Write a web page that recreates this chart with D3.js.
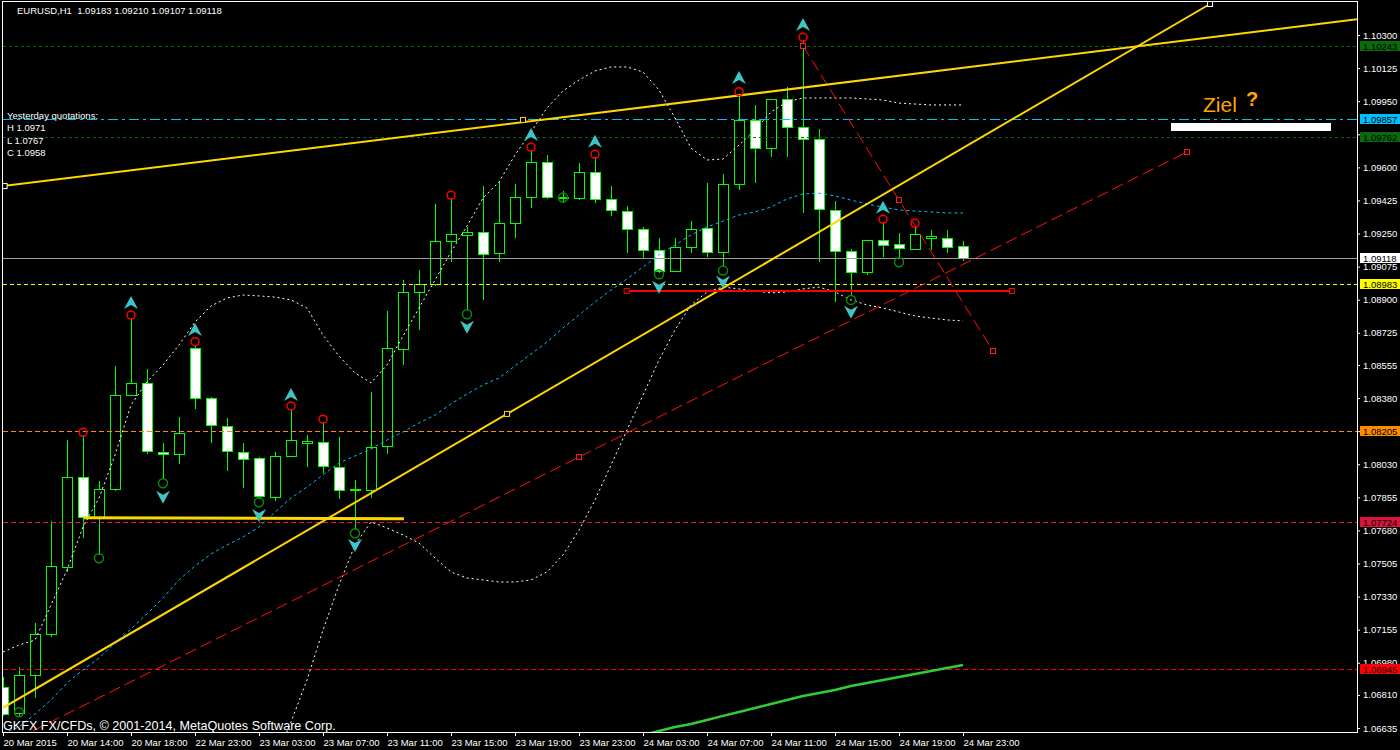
<!DOCTYPE html>
<html><head><meta charset="utf-8">
<script src="https://cdn.jsdelivr.net/npm/d3@7"></script>
<style>html,body{margin:0;padding:0;background:#000;}svg{display:block;}</style>
</head><body>
<svg id="chart" width="1400" height="750"></svg>
<script>
// ---------------- DATA ----------------
const headerText = "EURUSD,H1  1.09183 1.09210 1.09107 1.09118";
const copyrightText = "GKFX FX/CFDs, \u00a9 2001-2014, MetaQuotes Software Corp.";
const yesterdayLines = ["Yesterday quotations:", "H 1.0971", "L 1.0767", "C 1.0958"];

const timeLabels = ["20 Mar 2015","20 Mar 14:00","20 Mar 18:00","22 Mar 23:00","23 Mar 03:00","23 Mar 07:00","23 Mar 11:00","23 Mar 15:00","23 Mar 19:00","23 Mar 23:00","24 Mar 03:00","24 Mar 07:00","24 Mar 11:00","24 Mar 15:00","24 Mar 19:00","24 Mar 23:00"];
const timeLabelBars = [0,4,8,12,16,20,24,28,32,36,40,44,48,52,56,60];

const priceTicks = [1.10300,1.10125,1.09950,1.09775,1.09600,1.09425,1.09250,1.09075,1.08900,1.08725,1.08555,1.08380,1.08205,1.08030,1.07855,1.07680,1.07505,1.07330,1.07155,1.06980,1.06810,1.06635];

const opens  = [1.06854,1.06713,1.06912,1.07131,1.07485,1.07961,1.07744,1.07897,1.08395,1.08458,1.08093,1.08083,1.08643,1.08379,1.08234,1.08096,1.08061,1.07858,1.08074,1.08144,1.08146,1.08017,1.07890,1.07894,1.08123,1.08643,1.08942,1.08982,1.09207,1.09246,1.09257,1.09146,1.09304,1.09442,1.09627,1.09445,1.09436,1.09574,1.09431,1.09368,1.09272,1.09161,1.09048,1.09177,1.09278,1.09149,1.09510,1.09851,1.09701,1.09960,1.09812,1.09748,1.09373,1.09156,1.09045,1.09216,1.09195,1.09170,1.09223,1.09225,1.09183];
const highs  = [1.06905,1.06959,1.07189,1.07730,1.08158,1.08185,1.07941,1.08550,1.08803,1.08532,1.08141,1.08281,1.08661,1.08387,1.08273,1.08141,1.08068,1.08096,1.08322,1.08185,1.08253,1.08172,1.07947,1.08414,1.08840,1.09004,1.09057,1.09406,1.09438,1.09283,1.09501,1.09529,1.09510,1.09692,1.09665,1.09477,1.09621,1.09655,1.09501,1.09396,1.09283,1.09225,1.09225,1.09316,1.09516,1.09565,1.09988,1.09930,1.09962,1.10023,1.10274,1.09803,1.09422,1.09168,1.09216,1.09311,1.09254,1.09283,1.09269,1.09269,1.09210];
const lows   = [1.06699,1.06699,1.06792,1.07118,1.07462,1.07638,1.07550,1.07890,1.08391,1.08083,1.07952,1.08030,1.08321,1.08141,1.07996,1.07903,1.07846,1.07837,1.08070,1.08017,1.07982,1.07845,1.07682,1.07850,1.08083,1.08555,1.08740,1.08975,1.09101,1.08846,1.08899,1.09101,1.09228,1.09387,1.09431,1.09413,1.09430,1.09410,1.09344,1.09146,1.09114,1.09040,1.09045,1.09149,1.09128,1.09073,1.09480,1.09516,1.09656,1.09656,1.09357,1.09098,1.08890,1.08920,1.09031,1.09128,1.09119,1.09165,1.09163,1.09149,1.09107];
const closes = [1.06713,1.06914,1.07131,1.07492,1.07961,1.07749,1.07897,1.08395,1.08458,1.08096,1.08083,1.08194,1.08379,1.08234,1.08102,1.08061,1.07858,1.08074,1.08158,1.08154,1.08017,1.07897,1.07897,1.08123,1.08643,1.08942,1.08982,1.09209,1.09246,1.09260,1.09140,1.09304,1.09442,1.09627,1.09442,1.09440,1.09574,1.09431,1.09373,1.09272,1.09159,1.09048,1.09177,1.09272,1.09149,1.09510,1.09851,1.09701,1.09960,1.09812,1.09748,1.09378,1.09156,1.09045,1.09216,1.09188,1.09172,1.09248,1.09235,1.09177,1.09118];

// Bollinger-type envelope (upper / middle / lower)
const upperBand = [1.07037,1.07074,1.07100,1.07286,1.07471,1.07698,1.07851,1.08079,1.08343,1.08465,1.08555,1.08661,1.08782,1.08867,1.08909,1.08925,1.08920,1.08914,1.08899,1.08856,1.08713,1.08602,1.08513,1.08460,1.08555,1.08708,1.08856,1.09004,1.09152,1.09290,1.09438,1.09523,1.09665,1.09787,1.09914,1.10004,1.10062,1.10110,1.10131,1.10131,1.10104,1.10009,1.09861,1.09702,1.09639,1.09644,1.09718,1.09798,1.09893,1.09946,1.09967,1.09967,1.09967,1.09967,1.09962,1.09956,1.09940,1.09935,1.09930,1.09930,1.09930];
const middleBand = [1.06609,1.06640,1.06709,1.06783,1.06873,1.06942,1.07005,1.07085,1.07159,1.07238,1.07323,1.07418,1.07492,1.07555,1.07603,1.07645,1.07698,1.07777,1.07851,1.07910,1.07973,1.08037,1.08074,1.08111,1.08158,1.08201,1.08248,1.08290,1.08349,1.08401,1.08449,1.08486,1.08550,1.08613,1.08676,1.08751,1.08819,1.08888,1.08951,1.09010,1.09073,1.09137,1.09189,1.09242,1.09285,1.09316,1.09348,1.09364,1.09390,1.09433,1.09459,1.09464,1.09449,1.09427,1.09406,1.09390,1.09375,1.09369,1.09364,1.09359,1.09359];
const lowerBandStart = 17;
const lowerBand = [1.06466,1.06667,1.06889,1.07153,1.07391,1.07603,1.07725,1.07693,1.07656,1.07613,1.07534,1.07460,1.07428,1.07418,1.07407,1.07407,1.07418,1.07460,1.07550,1.07682,1.07841,1.08026,1.08211,1.08396,1.08581,1.08740,1.08872,1.08941,1.08967,1.08957,1.08946,1.08936,1.08941,1.08957,1.08967,1.08941,1.08899,1.08872,1.08856,1.08835,1.08814,1.08803,1.08793,1.08788];
// long moving average (green)
const maStart = 40;
const maLine = [1.06598,1.06619,1.06640,1.06656,1.06677,1.06699,1.06720,1.06741,1.06762,1.06783,1.06804,1.06820,1.06836,1.06857,1.06873,1.06889,1.06905,1.06921,1.06936,1.06952,1.06968];

// fractal markers
const upArrowBars   = [8,12,18,33,37,46,50,55];
const upArrowPrices = [1.08883,1.08740,1.08396,1.09771,1.09736,1.10073,1.10353,1.09387];
const downArrowBars   = [10,16,22,29,41,45,53];
const downArrowPrices = [1.07858,1.07762,1.07603,1.08757,1.08969,1.08995,1.08837];
const redCircleBars   = [5,8,12,18,20,28,33,37,46,50,55,57];
const redCirclePrices = [1.08199,1.08819,1.08678,1.08338,1.08268,1.09452,1.09706,1.09669,1.10000,1.10288,1.09325,1.09304];
const greenCircleBars   = [1,6,10,16,22,29,35,41,45,53,56];
const greenCirclePrices = [1.06718,1.07533,1.07929,1.07829,1.07665,1.08823,1.09440,1.09035,1.09054,1.08899,1.09098];

// horizontal levels
const levelPrices = [1.10243,1.09857,1.09762,1.09118,1.08983,1.08205,1.07724,1.06945];

// drawn objects (bar index, price)
const upperTrendBars = [0, 84.75];
const upperTrendPrices = [1.09501, 1.10384];
const lowerTrendBars = [0, 75.44];
const lowerTrendPrices = [1.06742, 1.10464];
const supportBars = [5.06, 25.06];
const supportPrices = [1.07747, 1.07742];
const redLevelBars = [38.98, 63.06];
const redLevelPrices = [1.08946, 1.08946];
const redChannelBars = [0, 74];
const redChannelPrices = [1.06540, 1.09681];
const redChannelMarkBars = [36, 74];
const redChannelMarkPrices = [1.08068, 1.09681];
const redDropBars = [50, 61.875];
const redDropPrices = [1.10242, 1.08629];
const redDropMarkBars = [50, 56, 61.875];
const redDropMarkPrices = [1.10242, 1.09427, 1.08629];
const zielText = "Ziel";
const zielMark = "?";

// ---------------- STYLES ----------------
const levelStroke = ["#0d640d","#00bfff","#0d640d","#9a9a9a","#ffff00","#ff8c00","#dc143c","#ff0000"];
const levelBoxFill = ["#0b6a0b","#00bfff","#0b6a0b","#ffffff","#ffff00","#ff8c00","#dc143c","#ff0000"];
const levelDash = ["3,3","10,4,3,4","3,3",null,"4,3","5,3","5,3","5,3"];
const FONT = "'Liberation Sans', Arial, sans-serif";
const PL = 3, PR = 1357, PT = 2, PB = 732;

const svg = d3.select("#chart");
svg.append("rect").attr("width",1400).attr("height",750).attr("fill","#000");

const x = d3.scaleLinear().domain([0, 84.75]).range([3, 1359]);
const y = d3.scaleLinear().domain([1.06635, 1.10300]).range([728, 35]);

svg.append("defs").append("clipPath").attr("id","plot")
  .append("rect").attr("x",PL).attr("y",PT).attr("width",PR-PL).attr("height",PB-PT);

const plot = svg.append("g").attr("clip-path","url(#plot)");

// ---- candles ----
const bars = d3.range(opens.length);
const cg = plot.append("g").attr("shape-rendering","crispEdges");
cg.selectAll("line.wick").data(bars).join("line")
  .attr("x1", i => Math.round(x(i))+0.5).attr("x2", i => Math.round(x(i))+0.5)
  .attr("y1", i => Math.round(y(highs[i]))).attr("y2", i => Math.round(y(lows[i])))
  .attr("stroke","#00ff00").attr("stroke-width",1);
cg.selectAll("rect.body").data(bars).join("rect")
  .attr("x", i => Math.round(x(i))-4.5)
  .attr("width", 10)
  .attr("y", i => Math.round(y(Math.max(opens[i],closes[i])))+0.5)
  .attr("height", i => Math.max(1, Math.round(Math.abs(y(opens[i])-y(closes[i])))))
  .attr("fill", i => closes[i] >= opens[i] ? "#000" : "#fff")
  .attr("stroke","#00ff00").attr("stroke-width",1);

// ---- horizontal levels ----
plot.append("g").attr("shape-rendering","crispEdges")
  .selectAll("line").data(levelPrices).join("line")
  .attr("x1",PL).attr("x2",PR)
  .attr("y1", d => Math.round(y(d))+0.5).attr("y2", d => Math.round(y(d))+0.5)
  .attr("stroke",(d,i)=>levelStroke[i])
  .attr("stroke-dasharray",(d,i)=>levelDash[i])
  .attr("stroke-width",1);

// ---- bands ----
const line = d3.line().x(d => x(d[0])).y(d => y(d[1]));
plot.append("path").datum(upperBand.map((v,i)=>[i,v]))
  .attr("d",line).attr("fill","none").attr("stroke","#fff").attr("stroke-dasharray","2,3");
plot.append("path").datum(lowerBand.map((v,i)=>[i+lowerBandStart,v]))
  .attr("d",line).attr("fill","none").attr("stroke","#fff").attr("stroke-dasharray","2,3");
plot.append("path").datum(middleBand.map((v,i)=>[i,v]))
  .attr("d",line).attr("fill","none").attr("stroke","#00bfff").attr("stroke-dasharray","3,3");
plot.append("path").datum(maLine.map((v,i)=>[i+maStart,v]))
  .attr("d",line).attr("fill","none").attr("stroke","#32cd32").attr("stroke-width",2.5);

// ---- trend objects ----
function seg(bx, py, color, w, dash){
  plot.append("path").datum(bx.map((b,i)=>[b,py[i]]))
    .attr("d",line).attr("fill","none").attr("stroke",color).attr("stroke-width",w)
    .attr("stroke-dasharray",dash);
}
seg(redChannelBars, redChannelPrices, "#ff1010", 1, "12,5");
seg(redDropBars, redDropPrices, "#ff1010", 1, "12,5");
seg(upperTrendBars, upperTrendPrices, "#ffd700", 2, null);
seg(lowerTrendBars, lowerTrendPrices, "#ffd700", 2, null);
seg(supportBars, supportPrices, "#ffd700", 3, null);
seg(redLevelBars, redLevelPrices, "#ff0000", 2, null);

function squares(bx, py, color){
  plot.selectAll(null).data(bx).join("rect")
    .attr("x",(b)=>x(b)-2.5).attr("y",(b,i)=>y(py[i])-2.5)
    .attr("width",5).attr("height",5)
    .attr("fill","#000").attr("stroke",color).attr("stroke-width",1);
}
squares(redChannelMarkBars, redChannelMarkPrices, "#ff2020");
squares(redDropMarkBars, redDropMarkPrices, "#ff2020");
squares(redLevelBars, redLevelPrices, "#ff0000");
squares([32.5],[1.09851],"#ffd700");
squares([31.5],[1.08296],"#ffd700");
squares([0.1],[1.09501],"#ffffff");
squares([75.44],[1.10464],"#ffffff");

// ---- fractal markers ----
const arrowUp = "M0,-7 L7,6 L0,2 L-7,6 Z";
const arrowDown = "M0,7 L7,-6 L0,-2 L-7,-6 Z";
plot.selectAll("path.au").data(upArrowBars).join("path")
  .attr("d",arrowUp).attr("transform",(b,i)=>`translate(${x(b)},${y(upArrowPrices[i])})`)
  .attr("fill","#40c4c4");
plot.selectAll("path.ad").data(downArrowBars).join("path")
  .attr("d",arrowDown).attr("transform",(b,i)=>`translate(${x(b)},${y(downArrowPrices[i])})`)
  .attr("fill","#40c4c4");
plot.selectAll("circle.rc").data(redCircleBars).join("circle")
  .attr("cx",b=>x(b)).attr("cy",(b,i)=>y(redCirclePrices[i])).attr("r",4)
  .attr("fill","none").attr("stroke","#ff0000").attr("stroke-width",1.5);
plot.selectAll("circle.gc").data(greenCircleBars).join("circle")
  .attr("cx",b=>x(b)).attr("cy",(b,i)=>y(greenCirclePrices[i])).attr("r",4.5)
  .attr("fill","none").attr("stroke","#0a8a0a").attr("stroke-width",1.5);

// ---- Ziel annotation ----
svg.append("rect").attr("x",1171).attr("y",123).attr("width",160).attr("height",8).attr("fill","#fff");
svg.append("text").attr("x",1203).attr("y",112).attr("fill","#ffa500")
  .attr("font-family",FONT).attr("font-size",21).text(zielText);
svg.append("text").attr("x",1246).attr("y",106).attr("fill","#ffa500")
  .attr("font-family",FONT).attr("font-size",20).attr("font-weight","bold").text(zielMark);

// ---- frame ----
svg.append("rect").attr("x",PL-0.5).attr("y",PT-0.5).attr("width",PR-PL+0.5).attr("height",PB-PT+0.5)
  .attr("fill","none").attr("stroke","#fff").attr("stroke-width",1).attr("shape-rendering","crispEdges");

// ---- right axis ----
const ra = svg.append("g").attr("transform",`translate(${PR},0)`)
  .call(d3.axisRight(y).tickValues(priceTicks).tickFormat(d3.format(".5f")).tickSize(3).tickPadding(3));
ra.select(".domain").remove();
ra.selectAll("line").attr("stroke","#fff");
ra.selectAll("text").attr("fill","#fff").attr("font-family",FONT).attr("font-size",9.5);

// level labels on axis
const lb = svg.append("g");
lb.selectAll("rect").data(levelPrices).join("rect")
  .attr("x",1360).attr("width",40).attr("y",d=>Math.round(y(d))-5).attr("height",10)
  .attr("fill",(d,i)=>levelBoxFill[i]);
lb.selectAll("text").data(levelPrices).join("text")
  .attr("x",1363).attr("y",d=>Math.round(y(d))+3.5)
  .attr("fill","#000").attr("font-family",FONT).attr("font-size",9.5)
  .text(d=>d3.format(".5f")(d));

// ---- bottom axis ----
const ba = svg.append("g").attr("transform",`translate(0,${PB})`)
  .call(d3.axisBottom(x).tickValues(timeLabelBars).tickFormat((d,i)=>timeLabels[i]).tickSize(4).tickPadding(3));
ba.select(".domain").remove();
ba.selectAll("line").attr("stroke","#fff");
ba.selectAll("text").attr("fill","#fff").attr("font-family",FONT).attr("font-size",9.5)
  .attr("text-anchor","start");

// ---- texts ----
svg.append("text").attr("x",17).attr("y",14).attr("fill","#fff").attr("font-family",FONT)
  .attr("font-size",9.5).attr("xml:space","preserve").style("white-space","pre").text(headerText);
svg.selectAll("text.yq").data(yesterdayLines).join("text")
  .attr("x",7).attr("y",(d,i)=>119+i*12.3).attr("fill","#fff").attr("font-family",FONT)
  .attr("font-size",9.5).text(d=>d);
svg.append("text").attr("x",3).attr("y",730).attr("fill","#fff").attr("font-family",FONT)
  .attr("font-size",12.6).text(copyrightText);
</script>
</body></html>
